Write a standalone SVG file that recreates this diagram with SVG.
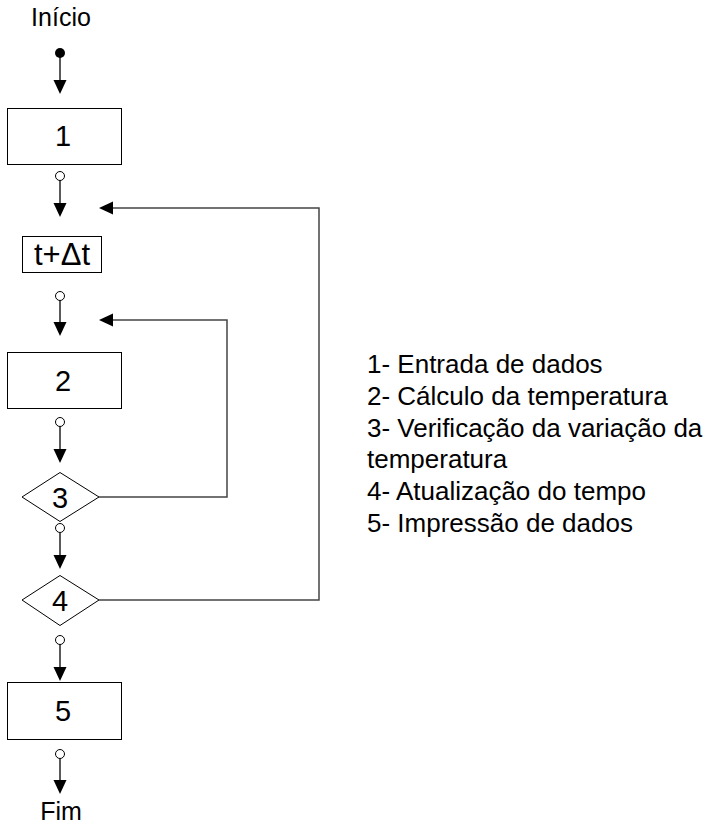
<svg xmlns="http://www.w3.org/2000/svg" width="715" height="825" viewBox="0 0 715 825">
  <style>
    text { font-family: "Liberation Sans", Arial, sans-serif; fill: #000; }
    .lbl { font-size: 25px; text-anchor: middle; }
    .num { font-size: 29px; text-anchor: middle; }
    .leg { font-size: 26px; }
    .box { fill: #fff; stroke: #000; stroke-width: 1; }
    .flow { stroke: #000; stroke-width: 1.3; fill: none; }
    .back { stroke: #444; stroke-width: 1.5; fill: none; }
    .port { fill: #fff; stroke: #000; stroke-width: 1; }
    .head { fill: #000; stroke: none; }
  </style>

  <rect width="715" height="825" fill="#fff"/>

  <!-- connectors -->
  <g id="connectors">
    <!-- start dot to step 1 -->
    <circle cx="60" cy="53" r="5" fill="#000"/>
    <line class="flow" x1="60" y1="53" x2="60" y2="82"/>
    <polygon class="head" points="53.5,80 66.5,80 60,94"/>
    <!-- 1 to t+dt -->
    <line class="flow" x1="60" y1="180" x2="60" y2="205"/>
    <polygon class="head" points="53.5,203 66.5,203 60,217"/>
    <circle class="port" cx="60" cy="176" r="4.5"/>
    <!-- t+dt to 2 -->
    <line class="flow" x1="60" y1="300" x2="60" y2="324"/>
    <polygon class="head" points="53.5,322 66.5,322 60,336"/>
    <circle class="port" cx="60" cy="296" r="4.5"/>
    <!-- 2 to 3 -->
    <line class="flow" x1="60" y1="426" x2="60" y2="451"/>
    <polygon class="head" points="53.5,449 66.5,449 60,463"/>
    <circle class="port" cx="60" cy="422" r="4.5"/>
    <!-- 3 to 4 -->
    <line class="flow" x1="60" y1="533" x2="60" y2="557"/>
    <polygon class="head" points="53.5,555 66.5,555 60,569"/>
    <!-- 4 to 5 -->
    <line class="flow" x1="60" y1="644" x2="60" y2="669"/>
    <polygon class="head" points="53.5,667 66.5,667 60,681"/>
    <circle class="port" cx="60" cy="640" r="4.5"/>
    <!-- 5 to end -->
    <line class="flow" x1="60" y1="758" x2="60" y2="782"/>
    <polygon class="head" points="53.5,780 66.5,780 60,794"/>
    <circle class="port" cx="60" cy="754" r="4.5"/>
    <!-- loop from 3 back above 2 -->
    <polyline class="back" points="99,497 227,497 227,320 110,320"/>
    <polygon class="head" points="113,313.5 113,326.5 99,320"/>
    <!-- loop from 4 back above t+dt -->
    <polyline class="back" points="99,600 319,600 319,208 110,208"/>
    <polygon class="head" points="113,201.5 113,214.5 99,208"/>
  </g>

  <g id="start">
    <text class="lbl" x="61" y="26">Início</text>
  </g>

  <g id="step1">
    <rect class="box" x="7.5" y="108.5" width="114" height="56"/>
    <text class="num" x="63" y="146">1</text>
  </g>

  <g id="timestep">
    <rect class="box" x="22.5" y="236.5" width="79" height="36"/>
    <text class="num" x="62" y="265" style="font-size:31px">t+Δt</text>
  </g>

  <g id="step2">
    <rect class="box" x="7.5" y="352.5" width="114" height="56"/>
    <text class="num" x="63" y="391">2</text>
  </g>

  <g id="step3">
    <polygon class="box" points="22,497 60,472.5 99,497 60,521.5"/>
    <text class="num" x="60" y="508">3</text>
  </g>
  <circle class="port" cx="60" cy="528" r="4.5"/>

  <g id="step4">
    <polygon class="box" points="22,600 60,575.5 99,600 60,625.5"/>
    <text class="num" x="60" y="611">4</text>
  </g>

  <g id="step5">
    <rect class="box" x="7.5" y="682.5" width="114" height="57"/>
    <text class="num" x="63" y="721">5</text>
  </g>

  <g id="end">
    <text class="lbl" x="61" y="820">Fim</text>
  </g>

  <g id="legend">
    <text class="leg" x="367" y="373">1- Entrada de dados</text>
    <text class="leg" x="367" y="405">2- Cálculo da temperatura</text>
    <text class="leg" x="367" y="437">3- Verificação da variação da</text>
    <text class="leg" x="367" y="468">temperatura</text>
    <text class="leg" x="367" y="500">4- Atualização do tempo</text>
    <text class="leg" x="367" y="532">5- Impressão de dados</text>
  </g>
</svg>
